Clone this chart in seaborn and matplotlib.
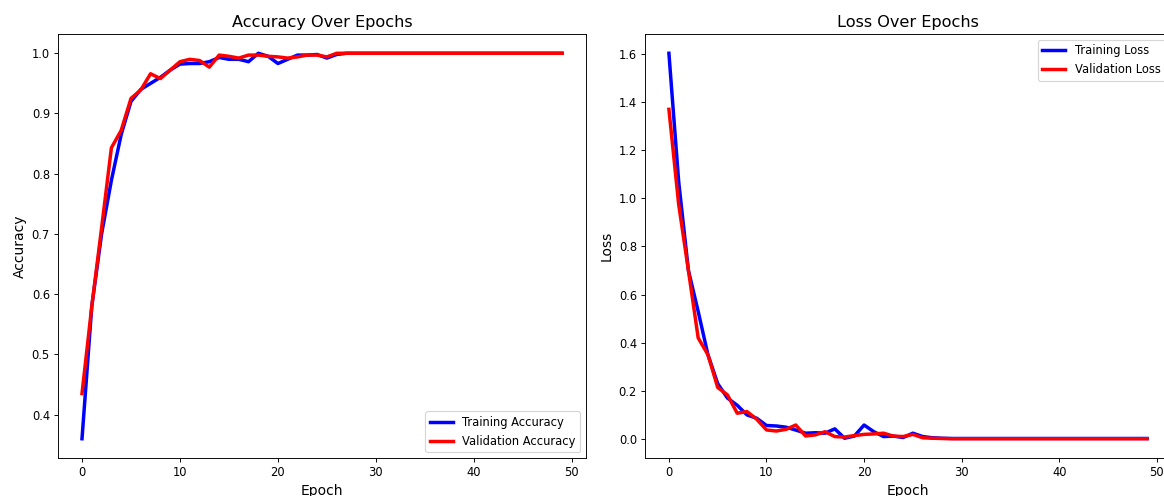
import numpy as np
import pandas as pd
import matplotlib
matplotlib.use("Agg")
import matplotlib.pyplot as plt
import seaborn as sns

epochs = list(range(50))

train_acc = [0.36, 0.58, 0.70, 0.789, 0.865, 0.92, 0.94, 0.95, 0.96, 0.972,
             0.982, 0.983, 0.983, 0.986, 0.993, 0.99, 0.99, 0.986, 1.0, 0.995,
             0.983, 0.99, 0.997, 0.997, 0.998, 0.992, 0.998, 1.0, 1.0, 1.0] + [1.0] * 20
val_acc = [0.435, 0.58, 0.71, 0.843, 0.872, 0.925, 0.939, 0.966, 0.958, 0.972,
           0.986, 0.99, 0.988, 0.977, 0.997, 0.995, 0.992, 0.997, 0.997, 0.995,
           0.994, 0.992, 0.994, 0.997, 0.997, 0.994, 1.0, 1.0, 1.0, 1.0] + [1.0] * 20

train_loss = [1.603, 1.07, 0.70, 0.53, 0.35, 0.23, 0.17, 0.14, 0.10, 0.086,
              0.056, 0.054, 0.049, 0.037, 0.024, 0.026, 0.024, 0.042, 0.003, 0.012,
              0.058, 0.03, 0.01, 0.012, 0.006, 0.024, 0.01, 0.005, 0.003, 0.002] + [0.002] * 20
val_loss = [1.37, 0.975, 0.70, 0.42, 0.35, 0.214, 0.183, 0.107, 0.114, 0.082,
            0.0375, 0.033, 0.04, 0.058, 0.0125, 0.017, 0.03, 0.01, 0.008, 0.014,
            0.019, 0.021, 0.024, 0.012, 0.01, 0.019, 0.005, 0.003, 0.002, 0.001] + [0.001] * 20

W, H = 1164, 496
DPI = W / 14.0
fig = plt.figure(figsize=(14, H / DPI), dpi=DPI)
ax1 = fig.add_axes([58 / W, 38 / H, 528 / W, 424 / H])
ax2 = fig.add_axes([645 / W, 38 / H, 526 / W, 424 / H])

sns.lineplot(x=epochs, y=train_acc, ax=ax1, color="blue", linewidth=3, label="Training Accuracy")
sns.lineplot(x=epochs, y=val_acc, ax=ax1, color="red", linewidth=3, label="Validation Accuracy")
ax1.set_title("Accuracy Over Epochs", fontsize=14)
ax1.set_xlabel("Epoch", fontsize=12)
ax1.set_ylabel("Accuracy", fontsize=12)
ax1.legend(loc="lower right")

sns.lineplot(x=epochs, y=train_loss, ax=ax2, color="blue", linewidth=3, label="Training Loss")
sns.lineplot(x=epochs, y=val_loss, ax=ax2, color="red", linewidth=3, label="Validation Loss")
ax2.set_title("Loss Over Epochs", fontsize=14)
ax2.set_xlabel("Epoch", fontsize=12)
ax2.set_ylabel("Loss", fontsize=12)
ax2.legend(loc="upper right")

fig.savefig("out.png", dpi=DPI)
